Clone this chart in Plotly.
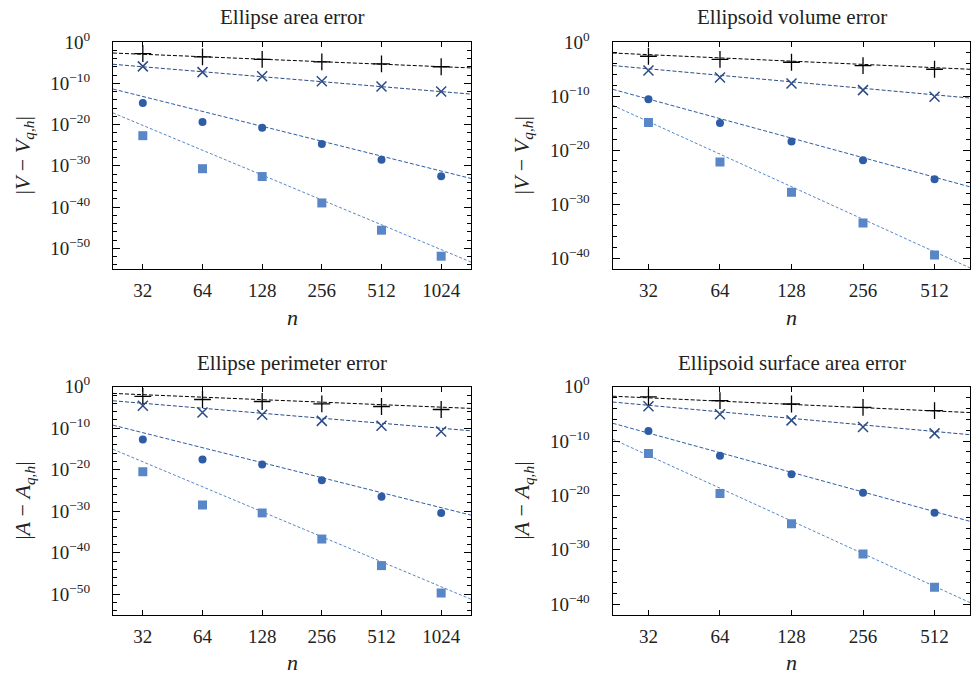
import numpy as np
import plotly.graph_objects as go

# ---------------- data ----------------
n_2d = [32, 64, 128, 256, 512, 1024]
n_3d = [32, 64, 128, 256, 512]

titles = ["Ellipse area error", "Ellipsoid volume error",
          "Ellipse perimeter error", "Ellipsoid surface area error"]

# log10 of errors, for q = 1, 2, 3, 4 (markers +, x, o, square)
area_q1 = [-2.8, -3.6, -4.2, -4.8, -5.3, -6.0]
area_q2 = [-5.9, -7.3, -8.3, -9.5, -10.8, -12.0]
area_q3 = [-14.8, -19.4, -20.8, -24.7, -28.5, -32.5]
area_q4 = [-22.7, -30.7, -32.6, -39.0, -45.6, -51.9]

vol_q1 = [-2.64, -3.2, -3.75, -4.36, -5.04]
vol_q2 = [-5.29, -6.58, -7.68, -8.9, -10.14]
vol_q3 = [-10.57, -15.0, -18.4, -21.9, -25.4]
vol_q4 = [-14.9, -22.2, -27.8, -33.5, -39.4]

perim_q1 = [-2.35, -3.08, -3.56, -4.12, -4.77, -5.49]
perim_q2 = [-4.6, -6.2, -6.78, -8.23, -9.43, -10.8]
perim_q3 = [-12.7, -17.56, -18.77, -22.55, -26.5, -30.4]
perim_q4 = [-20.5, -28.5, -30.4, -36.7, -43.1, -49.7]

surf_q1 = [-1.89, -2.56, -3.18, -3.79, -4.41]
surf_q2 = [-3.6, -5.08, -6.19, -7.42, -8.59]
surf_q3 = [-8.16, -12.7, -16.1, -19.5, -23.2]
surf_q4 = [-12.27, -19.65, -25.2, -30.8, -36.9]

# reference slopes: log10 of the fitted line at n=32 and convergence order
fit_orders = [2, 4, 12, 20]
area_fit32 = [-2.97, -6.0, -13.2, -20.2]
vol_fit32 = [-2.34, -4.96, -10.56, -14.73]
perim_fit32 = [-1.92, -3.99, -11.08, -18.09]
surf_fit32 = [-2.05, -3.42, -8.53, -12.65]

y_lo = [-55, -42, -55, -42]   # log10 bottom of each y axis
ytick_2d = [0, -10, -20, -30, -40, -50]
ytick_3d = [0, -10, -20, -30, -40]

# ---------------- styling ----------------
colors = ["#000000", "#2b4c86", "#2e5ca6", "#5886c6"]
symbols = ["cross-thin", "x-thin", "circle", "square"]
msizes = [12, 10, 8, 9]
mlines = [1.3, 1.5]
dashes = ["4px,2px", "4px,2px", "4px,2px", "3px,2px"]
FONT = "Liberation Serif"
TXT = "#222222"

W, H = 976, 675
boxes = [  # x0, x1, y0(top), y1(bottom) in pixels
    (113, 471, 42, 269),
    (612.7, 970.3, 42, 269),
    (113, 471, 386.7, 615),
    (612.7, 970.3, 386.7, 615),
]
ytitle_x = [24, 523, 24, 523]
xtitle_y = [318, 318, 662, 662]
title_y = [16.5, 16.5, 362.5, 362.5]

panels = [
    (n_2d, [area_q1, area_q2, area_q3, area_q4], area_fit32, ytick_2d, "V"),
    (n_3d, [vol_q1, vol_q2, vol_q3, vol_q4], vol_fit32, ytick_3d, "V"),
    (n_2d, [perim_q1, perim_q2, perim_q3, perim_q4], perim_fit32, ytick_2d, "A"),
    (n_3d, [surf_q1, surf_q2, surf_q3, surf_q4], surf_fit32, ytick_3d, "A"),
]

fig = go.Figure()
annotations = []

for i, (ns, series, fit32, yticks, sym) in enumerate(panels):
    k = "" if i == 0 else str(i + 1)
    xa, ya = "x" + k, "y" + k
    x0, x1, yt, yb = boxes[i]
    xlo = np.log10(ns[0] / np.sqrt(2))
    xhi = np.log10(ns[-1] * np.sqrt(2))
    # fitted lines
    xe = np.array([10 ** xlo, 10 ** xhi])
    for j in range(4):
        ye = 10 ** (fit32[j] - fit_orders[j] * np.log10(xe / 32))
        fig.add_trace(go.Scatter(x=xe, y=ye, mode="lines", xaxis=xa, yaxis=ya,
                                 line=dict(color=colors[j], width=1, dash=dashes[j]),
                                 showlegend=False, hoverinfo="skip"))
    for j in range(4):
        vals = [10 ** v for v in series[j]]
        mk = dict(color=colors[j], size=msizes[j], symbol=symbols[j])
        if j < 2:
            mk["line"] = dict(color=colors[j], width=mlines[j])
        fig.add_trace(go.Scatter(x=ns, y=vals, mode="markers", xaxis=xa, yaxis=ya,
                                 marker=mk, showlegend=False))

    minor_vals = [10.0 ** e for e in range(0, y_lo[i] - 1, -2) if e % 10 != 0]
    axis_common = dict(showline=True, linecolor="black", linewidth=1.3, mirror="ticks",
                       ticks="inside", tickcolor="black", showgrid=False, zeroline=False,
                       automargin=False,
                       tickfont=dict(family=FONT, size=19, color=TXT))
    fig.layout["xaxis" + k] = dict(
        type="log", range=[xlo, xhi], domain=[x0 / W, x1 / W], anchor=ya,
        tickvals=ns, ticktext=[str(v) for v in ns], ticklen=5, ticklabelstandoff=4,
        **axis_common)
    ytext = ["10<sup>0</sup>" if e == 0 else "10<sup>\u2212%d</sup>" % (-e) for e in yticks]
    fig.layout["yaxis" + k] = dict(
        type="log", range=[y_lo[i], 0], domain=[1 - yb / H, 1 - yt / H], anchor=xa,
        tickvals=[10.0 ** e for e in yticks], ticktext=ytext, ticklen=7, ticklabelstandoff=18,
        minor=dict(tickvals=minor_vals, ticklen=4, ticks="inside", tickcolor="black", showgrid=False),
        **axis_common)
    annotations.append(dict(text=titles[i], x=(x0 + x1) / 2 / W, y=1 - title_y[i] / H,
                            xref="paper", yref="paper", showarrow=False,
                            xanchor="center", yanchor="middle",
                            font=dict(family=FONT, size=21, color=TXT)))
    annotations.append(dict(text="<i>n</i>", x=(x0 + x1) / 2 / W, y=1 - xtitle_y[i] / H,
                            xref="paper", yref="paper", showarrow=False,
                            xanchor="center", yanchor="middle",
                            font=dict(family=FONT, size=22, color=TXT)))
    annotations.append(dict(text="|<i>%s</i> \u2212 <i>%s</i><sub><i>q,h</i></sub>|" % (sym, sym),
                            x=ytitle_x[i] / W, y=1 - (yt + yb) / 2 / H, textangle=-90,
                            xref="paper", yref="paper", showarrow=False,
                            xanchor="center", yanchor="middle",
                            font=dict(family=FONT, size=22, color=TXT)))

fig.update_layout(width=W, height=H, margin=dict(l=0, r=0, t=0, b=0, pad=0, autoexpand=False),
                  font=dict(family=FONT, size=19, color=TXT),
                  paper_bgcolor="white", plot_bgcolor="white",
                  annotations=annotations, showlegend=False)

fig.write_html("out.html", config={"displayModeBar": False},
               post_script="document.body.style.margin='0px';document.body.style.overflow='hidden';")
